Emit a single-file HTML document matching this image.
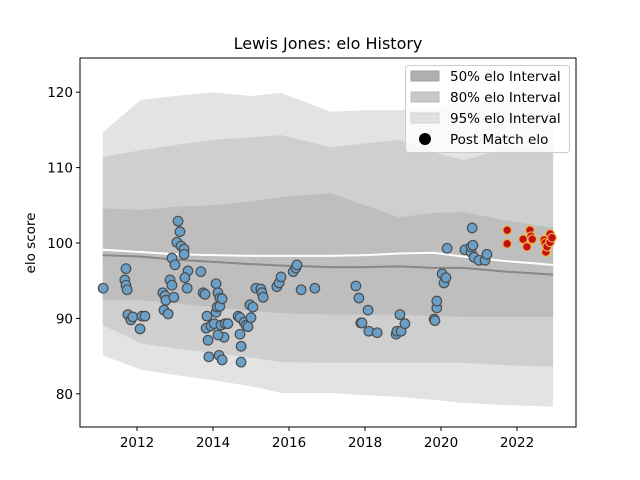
<!DOCTYPE html>
<html><head><meta charset="utf-8"><style>
body{margin:0;background:#fff}
svg{display:block;font-family:"DejaVu Sans","Liberation Sans",sans-serif}
</style></head><body>
<svg id="chart" width="640" height="480" viewBox="0 0 640 480">
<rect width="640" height="480" fill="#fff"/>
<text x="328" y="49" text-anchor="middle" font-size="16">Lewis Jones: elo History</text>
<text transform="translate(35,243) rotate(-90)" text-anchor="middle" font-size="13.5">elo score</text>
<g id="bands"></g><g id="lines"></g><g id="points"></g>
<rect x="80" y="58" width="496" height="369" fill="none" stroke="#000" stroke-width="1"/>
<g id="axes" font-size="13.5"></g>
<g>
<rect x="405.5" y="65.5" width="164" height="87" rx="3" fill="#fff" fill-opacity="0.8" stroke="#ccc"/>
<rect x="411" y="71" width="28" height="10" fill="#b0b0b0" stroke="#a0a0a0"/>
<text x="450" y="81" font-size="13.5">50% elo Interval</text>
<rect x="411" y="92" width="28" height="10" fill="#c8c8c8" stroke="#bbb"/>
<text x="450" y="102" font-size="13.5">80% elo Interval</text>
<rect x="411" y="113" width="28" height="10" fill="#e0e0e0" stroke="#d4d4d4"/>
<text x="450" y="123" font-size="13.5">95% elo Interval</text>
<circle cx="425" cy="139" r="6" fill="#000"/>
<text x="450" y="144" font-size="13.5">Post Match elo</text>
</g>
</svg>
<script>
const bandYears=[2011.1,2012.1,2013,2014,2015,2015.8,2017.1,2018,2018.9,2019.8,2020.6,2021.7,2022.95];
const up95=[114.7,119,119.5,120,119.5,119.9,117.4,117.6,117.6,118,118.5,119,119];
const up80=[111.4,112.3,113,113.7,114,114.3,112.7,113.2,113.7,112,111,112.5,113];
const up50=[104.6,104.4,104.8,105,105.5,106.1,106.6,105,103.4,104,104.1,103,102];
const lo50=[92.4,92.4,92,91.5,91,90.7,90.5,90.5,90.5,90.3,90.2,90.2,90.2];
const lo80=[89.1,86.7,86,85.4,84.8,84.2,84.1,84.1,84.1,84.1,84.1,83.8,83.6];
const lo95=[85.1,83.2,82.5,81.8,81,80.1,80.1,79.8,79.6,79.2,78.8,78.5,78.3];
const medianLine=[98.4,98.2,97.8,97.5,97.2,97.0,96.8,96.8,96.9,96.7,96.7,96.2,95.8];
const meanLine=[99.1,98.8,98.5,98.4,98.3,98.3,98.3,98.4,98.6,98.7,98.2,97.6,97.1];
const ptYears=[2011.11,2011.71,2011.68,2011.71,2011.74,2011.76,2011.84,2011.89,2012.13,2012.21,2012.08,2012.68,2012.74,2012.76,2012.71,2012.82,2012.87,2012.92,2012.97,2012.92,2013.0,2013.08,2013.13,2013.05,2013.16,2013.24,2013.24,2013.32,2013.34,2013.26,2013.68,2013.74,2013.79,2013.84,2013.82,2013.87,2013.89,2013.95,2014.03,2014.08,2014.08,2014.11,2014.13,2014.18,2014.18,2014.21,2014.24,2014.16,2014.24,2014.29,2014.32,2014.39,2014.13,2014.66,2014.71,2014.71,2014.74,2014.74,2014.82,2014.87,2014.92,2014.97,2015.0,2015.05,2015.13,2015.26,2015.29,2015.32,2015.68,2015.74,2015.79,2016.11,2016.18,2016.21,2016.32,2016.68,2017.76,2017.84,2017.89,2017.92,2018.08,2018.1,2018.32,2018.92,2018.82,2018.84,2018.95,2019.05,2019.82,2019.84,2019.89,2019.89,2020.03,2020.08,2020.13,2020.16,2020.63,2020.79,2020.82,2020.79,2020.84,2020.87,2021.0,2021.16,2021.21];
const ptElo=[94.0,96.6,95.1,94.4,93.8,90.5,89.8,90.2,90.3,90.3,88.6,93.4,93.0,92.4,91.1,90.6,95.1,94.4,92.8,98.0,97.1,102.9,101.5,100.1,99.6,99.2,98.5,94.0,96.3,95.4,96.2,93.4,93.2,90.3,88.7,87.1,84.9,89.0,89.3,90.8,94.6,91.5,93.4,92.7,91.6,89.1,92.6,85.1,84.5,87.5,89.3,89.3,87.8,90.3,90.1,87.9,86.3,84.2,89.5,89.1,88.9,91.8,90.1,91.5,94.0,93.9,93.4,92.8,94.2,94.7,95.5,96.2,96.7,97.1,93.8,94.0,94.3,92.7,89.4,89.4,91.1,88.3,88.1,90.5,87.9,88.3,88.3,89.3,89.9,89.7,91.4,92.3,95.9,94.7,95.4,99.3,99.1,98.8,102.0,99.5,99.7,98.1,97.7,97.7,98.5];
const recentYears=[2021.74,2021.74,2022.16,2022.26,2022.34,2022.37,2022.4,2022.71,2022.74,2022.76,2022.79,2022.87,2022.87,2022.92];
const recentElo=[101.7,99.9,100.5,99.5,101.7,100.9,100.5,100.4,100.0,98.8,99.5,100.1,101.2,100.7];
const xTicks=[2012,2014,2016,2018,2020,2022];
const yTicks=[80,90,100,110,120];

const NS='http://www.w3.org/2000/svg';
const xs=yr=>137+(yr-2012)*38;
const ys=v=>243-(v-100)*7.54;
function mk(tag,attrs,parent){const e=document.createElementNS(NS,tag);for(const k in attrs)e.setAttribute(k,attrs[k]);parent.appendChild(e);return e;}
const bands=document.getElementById('bands');
function band(up,lo,fill,name){
  let d='M'+bandYears.map((y,i)=>xs(y)+','+ys(up[i])).join('L');
  d+='L'+bandYears.slice().reverse().map((y,j)=>{const i=bandYears.length-1-j;return xs(y)+','+ys(lo[i]);}).join('L')+'Z';
  const p=mk('path',{d:d,fill:fill},bands);
  
  
}
band(up95,lo95,'#e3e3e3','band-95');
band(up80,lo80,'#cfcfcf','band-80');
band(up50,lo50,'#bebebe','band-50');
const lines=document.getElementById('lines');
const ml=mk('polyline',{points:bandYears.map((y,i)=>xs(y)+','+ys(medianLine[i])).join(' '),fill:'none',stroke:'#888',"stroke-width":2},lines);


const wl=mk('polyline',{points:bandYears.map((y,i)=>xs(y)+','+ys(meanLine[i])).join(' '),fill:'none',stroke:'#fff',"stroke-width":2},lines);


const pts=document.getElementById('points');
ptYears.forEach((y,i)=>{
  const c=mk('circle',{cx:xs(y),cy:ys(ptElo[i]),r:4.8,fill:'#6a9fc7',stroke:'#4d4d4d',"stroke-width":1.2},pts);
  
  
});
recentYears.forEach((y,i)=>{
  const c=mk('circle',{cx:xs(y),cy:ys(recentElo[i]),r:4.3,fill:'#c0101c',stroke:'#f3b43a',"stroke-width":1.2},pts);
  
  
});
const ax=document.getElementById('axes');
xTicks.forEach(t=>{
  const l=mk('line',{x1:xs(t),x2:xs(t),y1:427,y2:431,stroke:'#000'},ax);
  
  
  const tx=mk('text',{x:xs(t),y:447,"text-anchor":"middle"},ax);tx.textContent=t;
  
  
});
yTicks.forEach(t=>{
  const l=mk('line',{x1:76,x2:80,y1:ys(t),y2:ys(t),stroke:'#000'},ax);
  
  
  const tx=mk('text',{x:73,y:ys(t)+5,"text-anchor":"end"},ax);tx.textContent=t;
  
  
});
</script>
</body></html>
